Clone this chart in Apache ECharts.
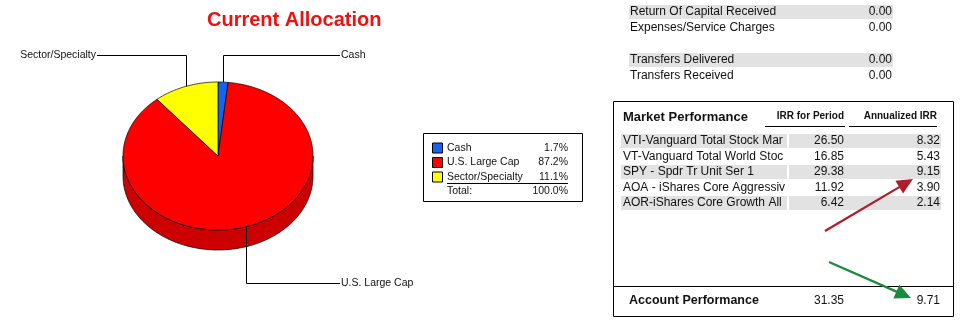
<!DOCTYPE html>
<html><head><meta charset="utf-8">
<script src="https://cdn.jsdelivr.net/npm/echarts@6/dist/echarts.min.js"></script>
<style>html,body{margin:0;padding:0;background:#fff}#c{width:963px;height:325px}</style>
</head><body><div id="c"></div>
<script>
// ---------------- DATA ----------------
const chartTitle = 'Current Allocation';
const categories = ['Cash', 'U.S. Large Cap', 'Sector/Specialty'];
const allocation = [1.7, 87.2, 11.1];
const totalLabel = 'Total:';

const capitalLabels = ['Return Of Capital Received', 'Expenses/Service Charges', '', 'Transfers Delivered', 'Transfers Received'];
const capitalValues = ['0.00', '0.00', '', '0.00', '0.00'];

const perfTitle = 'Market Performance';
const perfHeaders = ['IRR for Period', 'Annualized IRR'];
const funds = ['VTI-Vanguard Total Stock Market', 'VT-Vanguard Total World Stock', 'SPY - Spdr Tr Unit Ser 1', 'AOA - iShares Core Aggressive Allocation', 'AOR-iShares Core Growth Allocation'];
const irrPeriod = [26.50, 16.85, 29.38, 11.92, 6.42];
const irrAnnual = [8.32, 5.43, 9.15, 3.90, 2.14];
const accountLabel = 'Account Performance';
const accountIrrPeriod = 31.35;
const accountIrrAnnual = 9.71;

// ---------------- STYLE / LAYOUT ----------------
const topColors = ['#1464f4', '#ff0000', '#ffff00'];
const sideColors = ['#0c45b0', '#cc0000', '#c8c800'];
const CX = 218, CY = 156, RX = 95, RY = 74, DEPTH = 20;
const LABEL_TOP_Y = 55.5, LABEL_BOTTOM_Y = 283.5, LABEL_RIGHT_X = 340, LABEL_LEFT_X = 97;
const SANS = '"Liberation Sans", Arial, sans-serif';
const GRAY = '#e2e2e2';

const total = allocation.reduce((a, b) => a + b, 0);
const starts = [];
let acc = 0;
allocation.forEach(v => { starts.push(acc / total * 360); acc += v; });

function pt(t, dy) {
  const r = t * Math.PI / 180;
  return [CX + RX * Math.sin(r), CY - RY * Math.cos(r) + dy];
}
function arc(s, e, dy) {
  const n = Math.max(2, Math.ceil(Math.abs(e - s)));
  const out = [];
  for (let k = 0; k <= n; k++) out.push(pt(s + (e - s) * k / n, dy));
  return out;
}

function renderSlice(params, api) {
  const i = params.dataIndex;
  const a0 = starts[i];
  const a1 = a0 + api.value(0) / total * 360;
  const children = [];
  const s = Math.max(a0, 90), e = Math.min(a1, 270);
  if (s < e) {
    children.push({ type: 'polygon', z2: 1,
      shape: { points: arc(s, e, 0).concat(arc(e, s, DEPTH)) },
      style: { fill: sideColors[i], stroke: '#000', lineWidth: 0.7 } });
  }
  children.push({ type: 'polygon', z2: 2,
    shape: { points: [[CX, CY]].concat(arc(a0, a1, 0)) },
    style: { fill: topColors[i], stroke: '#000', lineWidth: 0.7 } });
  const m = (a0 + a1) / 2;
  const p = pt(m, 0);
  const up = Math.cos(m * Math.PI / 180) > 0;
  const right = Math.sin(m * Math.PI / 180) >= 0;
  const ly = up ? LABEL_TOP_Y : LABEL_BOTTOM_Y;
  const lx = right ? LABEL_RIGHT_X : LABEL_LEFT_X;
  const px = Math.round(p[0]) + 0.5;
  children.push({ type: 'polyline', z2: 3,
    shape: { points: [[px, p[1]], [px, ly], [lx, ly]] },
    style: { stroke: '#000', lineWidth: 1, fill: null } });
  children.push({ type: 'text', z2: 4, x: right ? lx + 1 : lx - 1, y: ly,
    style: { text: categories[i], font: '10.5px ' + SANS, fill: '#111',
      align: right ? 'left' : 'right', verticalAlign: 'middle' } });
  return { type: 'group', children };
}

// ---------------- GRAPHIC (legend box, tables, arrows) ----------------
const g = [];
function txt(x, y, text, font, align, extra) {
  g.push(Object.assign({ type: 'text', x, y, z: 10,
    style: Object.assign({ text: String(text), font, fill: '#111', align: align || 'left', verticalAlign: 'middle' }, extra || {}) }));
}
function rect(x, y, w, h, style) { g.push({ type: 'rect', z: 5, shape: { x, y, width: w, height: h }, style }); }
function line(x1, y1, x2, y2, stroke, w) {
  g.push({ type: 'line', z: 8, shape: { x1, y1, x2, y2 }, style: { stroke: stroke || '#000', lineWidth: w || 1 } });
}
function arrow(x1, y1, x2, y2, color) {
  const dx = x2 - x1, dy = y2 - y1, L = Math.hypot(dx, dy);
  const ux = dx / L, uy = dy / L, hl = 16, hw = 7.5;
  const bx = x2 - ux * hl, by = y2 - uy * hl;
  line(x1, y1, bx + ux * 2, by + uy * 2, color, 2.2);
  g.push({ type: 'polygon', z: 9, shape: { points: [[x2, y2], [bx - uy * hw, by + ux * hw], [bx + uy * hw, by - ux * hw]] },
    style: { fill: color } });
}

// Legend box
rect(423.5, 133.5, 159, 68, { fill: '#fff', stroke: '#000', lineWidth: 1 });
const legRowY = [148, 162.5, 177];
categories.forEach((c, i) => {
  rect(432.5, legRowY[i] - 5, 10, 10, { fill: topColors[i], stroke: '#000', lineWidth: 1 });
  txt(447, legRowY[i], c, '10.5px ' + SANS);
  txt(568, legRowY[i], (allocation[i]).toFixed(1) + '%', '10.5px ' + SANS, 'right');
});
line(447, 183.5, 568, 183.5, '#000', 1);
txt(447, 191.5, totalLabel, '10.5px ' + SANS);
txt(568, 191.5, total.toFixed(1) + '%', '10.5px ' + SANS, 'right');

// Capital table
const TFONT = '12px ' + SANS;
capitalLabels.forEach((lab, i) => {
  if (!lab) return;
  const y = 12 + i * 16;
  if (i === 0 || i === 3) rect(629, y - 7, 264, 14, { fill: GRAY });
  txt(630, y, lab, TFONT);
  txt(892, y, capitalValues[i], TFONT, 'right');
});

// Market performance box
rect(613.5, 101.5, 340, 215, { fill: 'none', stroke: '#000', lineWidth: 1 });
line(613, 286.5, 954, 286.5, '#000', 1);
txt(623, 117, perfTitle, 'bold 13px ' + SANS);
txt(844, 116, perfHeaders[0], 'bold 10px ' + SANS, 'right');
txt(937, 116, perfHeaders[1], 'bold 10px ' + SANS, 'right');
line(765, 126.5, 845, 126.5, '#000', 1);
line(849, 126.5, 937, 126.5, '#000', 1);
funds.forEach((f, i) => {
  const y = 141 + i * 15.5;
  if (i % 2 === 0) {
    rect(621, y - 7, 166, 14, { fill: GRAY });
    rect(789, y - 7, 152, 14, { fill: GRAY });
  }
  txt(623, y, f, TFONT, 'left', { width: 164, overflow: 'truncate', ellipsis: '' });
  txt(844, y, irrPeriod[i].toFixed(2), TFONT, 'right');
  txt(940, y, irrAnnual[i].toFixed(2), TFONT, 'right');
});
txt(629, 301, accountLabel, 'bold 12.5px ' + SANS);
txt(844, 301, accountIrrPeriod.toFixed(2), TFONT, 'right');
txt(940, 301, accountIrrAnnual.toFixed(2), TFONT, 'right');

arrow(825, 231, 913, 179, '#b01c2a');
arrow(829, 262, 911, 298, '#1a8a3c');

// ---------------- CHART ----------------
const chart = echarts.init(document.getElementById('c'), null, { renderer: 'canvas' });
chart.setOption({
  animation: false,
  backgroundColor: '#fff',
  title: { text: chartTitle, left: 202, top: 5,
    textStyle: { color: '#ee1111', fontSize: 20, fontWeight: 'bold', fontFamily: SANS } },
  series: [{
    type: 'custom', coordinateSystem: 'none', renderItem: renderSlice,
    data: allocation.map((v, i) => ({ name: categories[i], value: [v] }))
  }],
  graphic: g
});
</script></body></html>
